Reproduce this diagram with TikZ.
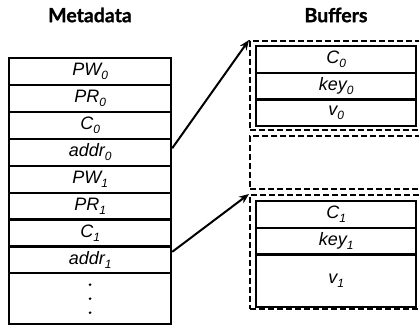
\documentclass[tikz,border=0pt]{standalone}
\usepackage{fontspec}
\setmainfont{Liberation Sans}
\newfontfamily\titlefont[BoldFeatures={FakeBold=1.2}]{Lato}
\newcommand\lowsub[1]{\raisebox{-4pt}{\fontsize{12}{12}\selectfont #1}}
\usetikzlibrary{arrows.meta,positioning}
\begin{document}
\begin{tikzpicture}[x=1pt,y=-1pt,
  title/.style={font=\titlefont\bfseries\fontsize{19.5}{22}\selectfont, inner sep=0pt},
  cell/.style={draw, line width=2.2pt, anchor=north west, minimum width=#1, minimum height=26.9pt, inner sep=0pt,
    font=\itshape\fontsize{18}{19}\selectfont},
  cell/.default=162pt,
  bufcell/.style={draw, line width=2.2pt, anchor=north west, minimum width=160pt, minimum height=#1, inner sep=0pt,
    font=\itshape\fontsize{18}{19}\selectfont},
  dbox/.style={draw, dash pattern=on 6pt off 3pt, line width=2pt, anchor=north west, minimum width=176pt, minimum height=#1, inner sep=0pt},
  link/.style={line width=2pt, -{Stealth[length=10pt,width=8pt]}}
]
\useasboundingbox (0,0) rectangle (419,326);
\clip (0,0) rectangle (419,326);
\fill[white] (0,0) rectangle (419,326);

\node[title] (tm) at (90,15) {Metadata};
\node[title] (tb) at (336,15) {Buffers};

% metadata column
\node[cell] (pw0) at (8,57) {PW\lowsub{0}};
\node[cell] (pr0) at (8,83.9) {PR\lowsub{0}};
\node[cell] (c0) at (8,110.8) {C\lowsub{0}};
\node[cell] (addr0) at (8,137.7) {addr\lowsub{0}};
\node[cell] (pw1) at (8,164.6) {PW\lowsub{1}};
\node[cell] (pr1) at (8,191.5) {PR\lowsub{1}};
\node[cell] (c1) at (8,218.4) {C\lowsub{1}};
\node[cell] (addr1) at (8,245.3) {addr\lowsub{1}};
\node[draw, line width=2.2pt, anchor=north west, minimum width=162pt, minimum height=50.8pt, inner sep=0pt] (dots) at (8,272.2) {};
\foreach \dy in {-14,0,14} \fill ([yshift=\dy]dots.center) circle (1.4pt);

% buffers
\node[dbox=89pt] (bufA) at (249,40) {};
\node[dbox=53pt] (bufB) at (249,135) {};
\node[dbox=114pt] (bufC) at (249,194) {};

\node[bufcell=26.7pt] (bc0) at (255,45) {C\lowsub{0}};
\node[bufcell=26.7pt] (bk0) at (255,71.7) {key\lowsub{0}};
\node[bufcell=26.7pt] (bv0) at (255,98.4) {v\lowsub{0}};

\node[bufcell=26.7pt] (bc1) at (255,200) {C\lowsub{1}};
\node[bufcell=26.7pt] (bk1) at (255,226.7) {key\lowsub{1}};
\node[bufcell=52.6pt] (bv1) at (255,253.4) {v\lowsub{1}};

% connectors
\draw[link] ([yshift=4pt]addr0.east) -- (bufA.north west);
\draw[link] ([yshift=8pt]addr1.east) -- (bufC.north west);
\end{tikzpicture}
\end{document}
